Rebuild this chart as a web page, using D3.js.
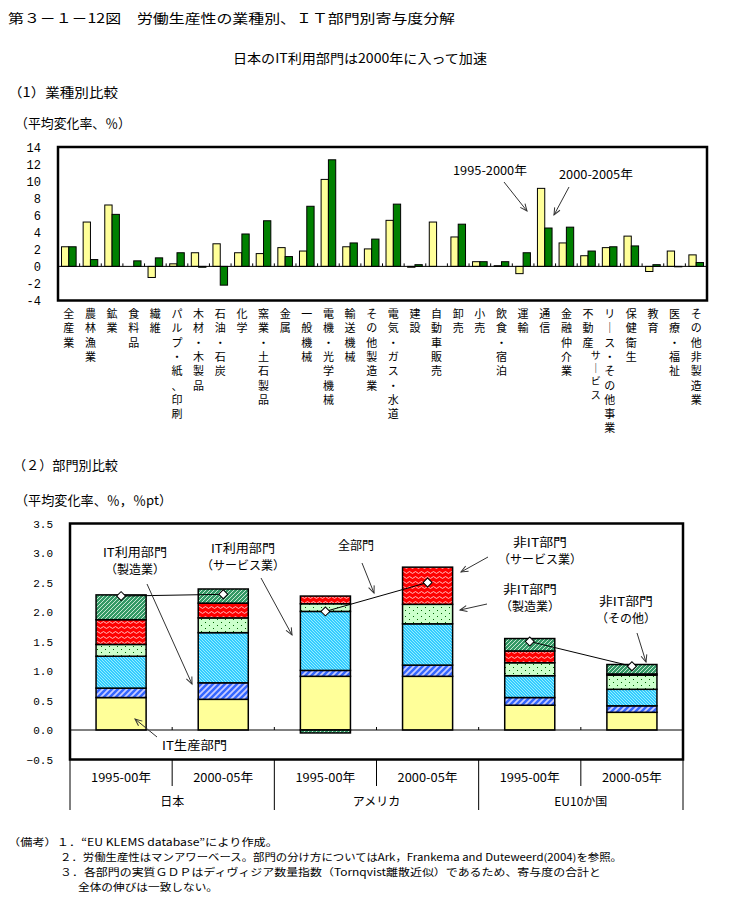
<!DOCTYPE html>
<html><head><meta charset="utf-8">
<script src="https://cdn.jsdelivr.net/npm/d3@7"></script>
<style>body{margin:0;background:#fff}</style>
</head><body><svg id="c" width="731" height="911"></svg>
<script>
// ---------- Data: chart (1) ----------
const categories = ["全産業","農林漁業","鉱業","食料品","繊維","パルプ・紙、印刷","木材・木製品","石油・石炭","化学","窯業・土石製品","金属","一般機械","電機・光学機械","輸送機械","その他製造業","電気・ガス・水道","建設","自動車販売","卸売","小売","飲食・宿泊","運輸","通信","金融仲介業","不動産","リース・その他事業サービス","保健衛生","教育","医療・福祉","その他非製造業"];
const series1995 = [2.3,5.2,7.2,0,-1.3,0.3,1.6,2.65,1.6,1.5,2.2,1.8,10.2,2.3,2.05,5.4,-0.1,5.2,3.45,0.55,0.08,-0.85,9.15,2.75,1.25,2.2,3.55,-0.6,1.8,1.35];
const series2000 = [2.3,0.8,6.1,0.65,1.0,1.6,-0.1,-2.2,3.8,5.35,1.15,7.05,12.5,2.75,3.2,7.3,0.2,0,4.95,0.55,0.55,1.6,4.5,4.6,1.8,2.3,2.4,0.2,-0.05,0.45];
const seriesNames1 = ["1995-2000年","2000-2005年"];
const yTicks1 = [-4,-2,0,2,4,6,8,10,12,14];

// ---------- Data: chart (2) ----------
const periods = ["1995-00年","2000-05年","1995-00年","2000-05年","1995-00年","2000-05年"];
const countries = ["日本","アメリカ","EU10か国"];
const itProduction   = [0.55,0.52,0.91,0.91,0.42,0.30];
const itUseMfg       = [0.16,0.28,0.10,0.19,0.13,0.11];
const itUseService   = [0.54,0.85,1.00,0.70,0.37,0.28];
const nonItMfg       = [0.20,0.25,0.13,0.33,0.22,0.24];
const nonItService   = [0.42,0.25,0.13,0.63,0.20,0.02];
const nonItOther     = [0.42,0.24,-0.05,0,0.21,0.16];
const allSectors     = [2.27,2.30,2.01,2.50,1.50,1.08];
const yTicks2 = [-0.5,0,0.5,1,1.5,2,2.5,3,3.5];

const JP = "'Noto Sans CJK JP','Noto Sans',sans-serif";
const NUM = "'Liberation Mono','DejaVu Sans Mono',monospace";

const svg = d3.select("#c");
svg.append("rect").attr("width",731).attr("height",911).attr("fill","#fff");
const defs = svg.append("defs");

// patterns
function pat(id,w,h,fill,draw){
  const p = defs.append("pattern").attr("id",id).attr("patternUnits","userSpaceOnUse").attr("width",w).attr("height",h);
  p.append("rect").attr("width",w).attr("height",h).attr("fill",fill);
  draw(p);
}
pat("pGreen",4,4,"#339966",p=>p.append("path").attr("d","M-1,1 L1,-1 M0,4 L4,0 M3,5 L5,3").attr("stroke","#d8f0e0").attr("stroke-width",0.9));
pat("pRed",6,5,"#ff0000",p=>p.append("path").attr("d","M0,2.5 Q1.5,0.6 3,2.5 T6,2.5").attr("stroke","#ffd0d0").attr("stroke-width",0.9).attr("fill","none"));
pat("pLight",8,6,"#ccffcc",p=>{p.append("rect").attr("x",1).attr("y",1).attr("width",1).attr("height",1).attr("fill","#006600");p.append("rect").attr("x",5).attr("y",4).attr("width",1).attr("height",1).attr("fill","#006600");});
pat("pCyan",3,3,"#33ccff",p=>p.append("path").attr("d","M0,0 L3,3 M-1,2 L1,4 M2,-1 L4,1").attr("stroke","#b0f4ff").attr("stroke-width",0.8));
pat("pBlue",6,6,"#3366ff",p=>p.append("path").attr("d","M-1.5,1.5 L1.5,-1.5 M0,6 L6,0 M4.5,7.5 L7.5,4.5").attr("stroke","#c8ccff").attr("stroke-width",1.8));

defs.append("marker").attr("id","arr").attr("viewBox","-8 -4 10 8").attr("refX",0).attr("refY",0)
  .attr("markerWidth",10).attr("markerHeight",8).attr("markerUnits","userSpaceOnUse").attr("orient","auto")
  .append("path").attr("d","M-7,-3 L0,0 L-7,3").attr("fill","none").attr("stroke","#333").attr("stroke-width",1);

function txt(x,y,s,opt={}){
  const t = svg.append("text").attr("x",x).attr("y",y).text(s)
    .attr("font-family",opt.family||JP).attr("font-size",opt.size||13).attr("fill","#000")
    .attr("text-anchor",opt.anchor||"start");
  if(opt.len) t.attr("textLength",opt.len).attr("lengthAdjust","spacingAndGlyphs");
  return t;
}
function arrow(x1,y1,x2,y2){
  svg.append("line").attr("x1",x1).attr("y1",y1).attr("x2",x2).attr("y2",y2)
    .attr("stroke","#333").attr("stroke-width",1).attr("marker-end","url(#arr)");
}

// ---------- Headings ----------
txt(8,23,"第３－１－12図　労働生産性の業種別、ＩＴ部門別寄与度分解",{size:13,len:447});
txt(360,63,"日本のIT利用部門は2000年に入って加速",{size:13,anchor:"middle",len:254});
txt(8,97,"（1）業種別比較",{size:13,len:110});
txt(15,128,"（平均変化率、％）",{size:13,len:116});

// ---------- Chart 1 ----------
const c1 = {l:58,r:707,t:147,b:300.5};
const y1 = d3.scaleLinear().domain([-4,14]).range([c1.b,c1.t]);
const x1 = d3.scaleBand().domain(categories).range([c1.l,c1.r]);
const xs1 = d3.scaleBand().domain(seriesNames1).range([0,x1.bandwidth()]).paddingOuter(0.48);
const g1 = svg.append("g");
const rows1 = categories.map((c,i)=>({c,v:[series1995[i],series2000[i]]}));
const fills1 = ["#ffff99","#008000"];
rows1.forEach(r=>{
  r.v.forEach((v,j)=>{
    if(v===0) return;
    g1.append("rect").attr("x",x1(r.c)+xs1(seriesNames1[j])).attr("width",xs1.bandwidth())
      .attr("y",y1(Math.max(0,v))).attr("height",Math.abs(y1(v)-y1(0)))
      .attr("fill",fills1[j]).attr("stroke","#000").attr("stroke-width",1);
  });
});
// zero line & category ticks
g1.append("line").attr("x1",c1.l).attr("x2",c1.r).attr("y1",y1(0)).attr("y2",y1(0)).attr("stroke","#000");
categories.slice(1).forEach(c=>{
  g1.append("line").attr("x1",x1(c)).attr("x2",x1(c)).attr("y1",y1(0)).attr("y2",y1(0)-3).attr("stroke","#000");
});
g1.append("rect").attr("x",c1.l).attr("y",c1.t).attr("width",c1.r-c1.l).attr("height",c1.b-c1.t)
  .attr("fill","none").attr("stroke","#000").attr("stroke-width",2.5);
yTicks1.forEach(t=>{
  txt(41,y1(t)+4.5,String(t),{family:NUM,size:12,anchor:"end"});
});
// vertical category labels
categories.forEach(c=>{
  const cx = x1(c)+x1.bandwidth()/2;
  const chars = Array.from(c).map(ch=>ch==="ー"?"｜":ch);
  const col1 = chars.slice(0,9), col2 = chars.slice(9);
  col1.forEach((ch,k)=>txt(cx,318+k*14.3,ch,{size:11,anchor:"middle"}));
  col2.forEach((ch,k)=>txt(cx-14,359+k*13.2,ch,{size:10,anchor:"middle"}));
});
txt(490,175,"1995-2000年",{size:12,anchor:"middle",len:74});
txt(596,179,"2000-2005年",{size:12,anchor:"middle",len:74});
arrow(504,182,527,211);
arrow(569,187,554,215);

// ---------- Chart 2 ----------
txt(13,470,"（２）部門別比較",{size:13,len:105});
txt(15,505,"（平均変化率、％，％pt）",{size:13,len:157});

const c2 = {l:70,r:683,t:523.5,b:759.5};
const y2 = d3.scaleLinear().domain([-0.5,3.5]).range([c2.b,c2.t]);
const x2 = d3.scaleBand().domain(d3.range(periods.length)).range([c2.l,c2.r]).paddingInner(0.51).paddingOuter(0.255);
const keys = ["itProduction","itUseMfg","itUseService","nonItMfg","nonItService","nonItOther"];
const arrs = [itProduction,itUseMfg,itUseService,nonItMfg,nonItService,nonItOther];
const pats = ["#ffff99","url(#pBlue)","url(#pCyan)","url(#pLight)","url(#pRed)","url(#pGreen)"];
const rows2 = periods.map((p,i)=>{const o={i};keys.forEach((k,j)=>o[k]=arrs[j][i]);return o;});
const stack = d3.stack().keys(keys).offset(d3.stackOffsetDiverging)(rows2);
const g2 = svg.append("g");
stack.forEach((layer,j)=>{
  layer.forEach(d=>{
    if(d[0]===d[1]) return;
    const a=y2(d[0]), b=y2(d[1]);
    g2.append("rect").attr("x",x2(d.data.i)).attr("width",x2.bandwidth())
      .attr("y",Math.min(a,b)).attr("height",Math.abs(a-b))
      .attr("fill",pats[j]).attr("stroke","#000").attr("stroke-width",1.5);
  });
});
// zero line & ticks
g2.append("line").attr("x1",c2.l).attr("x2",c2.r).attr("y1",y2(0)).attr("y2",y2(0)).attr("stroke","#000");
const step2 = (c2.r-c2.l)/periods.length;
d3.range(1,periods.length).forEach(k=>{
  const xx = c2.l+step2*k;
  g2.append("line").attr("x1",xx).attr("x2",xx).attr("y1",y2(0)).attr("y2",y2(0)-3).attr("stroke","#000");
});
// total lines & diamonds
const cx2 = i=>x2(i)+x2.bandwidth()/2;
countries.forEach((c,k)=>{
  const pts = [2*k,2*k+1].map(i=>[cx2(i),y2(allSectors[i])]);
  g2.append("path").attr("d",d3.line()(pts)).attr("stroke","#000").attr("stroke-width",1).attr("fill","none");
});
allSectors.forEach((v,i)=>{
  g2.append("path").attr("d",d3.symbol(d3.symbolSquare,40)())
    .attr("transform",`translate(${cx2(i)},${y2(v)}) rotate(45)`)
    .attr("fill","#fff").attr("stroke","#000").attr("stroke-width",1);
});
g2.append("rect").attr("x",c2.l).attr("y",c2.t).attr("width",c2.r-c2.l).attr("height",c2.b-c2.t)
  .attr("fill","none").attr("stroke","#000").attr("stroke-width",2.5);
yTicks2.forEach(t=>txt(53,y2(t)+4,d3.format(".1f")(t),{family:NUM,size:11,anchor:"end"}));

// category table below
const tb = svg.append("g").attr("stroke","#000").attr("stroke-width",1);
tb.append("line").attr("x1",c2.l).attr("x2",c2.l).attr("y1",c2.b).attr("y2",810);
tb.append("line").attr("x1",c2.r).attr("x2",c2.r).attr("y1",c2.b).attr("y2",810);
d3.range(1,periods.length).forEach(k=>{
  const xx = c2.l+step2*k;
  tb.append("line").attr("x1",xx).attr("x2",xx).attr("y1",c2.b).attr("y2",k%2===0?810:786);
});
periods.forEach((p,i)=>txt(cx2(i),782,p,{size:12,anchor:"middle",len:60}));
countries.forEach((c,k)=>txt(c2.l+step2*(2*k+1),806,c,{size:12,anchor:"middle"}));

// annotations chart 2
const A = {size:12,anchor:"middle"};
txt(135,557,"IT利用部門",{...A,len:64});
txt(135,574,"（製造業）",A);
arrow(147,584,192,684);
txt(243,553,"IT利用部門",{...A,len:64});
txt(243,570,"（サービス業）",A);
arrow(261,578,292,635);
txt(356,550,"全部門",A);
arrow(362,563,374,593);
txt(540,547,"非IT部門",{...A,len:54});
txt(540,564,"（サービス業）",A);
arrow(488,557,461,572);
txt(530,594,"非IT部門",{...A,len:54});
txt(530,611,"（製造業）",A);
arrow(487,604,460,610);
txt(626,606,"非IT部門",{...A,len:54});
txt(626,623,"（その他）",A);
arrow(637,633,646,662);
txt(162,750,"IT生産部門",{size:12,len:65});
arrow(157,737,135,719);

// ---------- Notes ----------
txt(8,846,"（備考）１．“EU KLEMS database”により作成。",{size:10,len:270});
txt(60,861,"２．労働生産性はマンアワーベース。部門の分け方についてはArk，Frankema and Duteweerd(2004)を参照。",{size:10,len:562});
txt(60,876,"３．各部門の実質ＧＤＰはディヴィジア数量指数（Tornqvist離散近似）であるため、寄与度の合計と",{size:10,len:541});
txt(78,891,"全体の伸びは一致しない。",{size:10,len:140});
</script></body></html>
